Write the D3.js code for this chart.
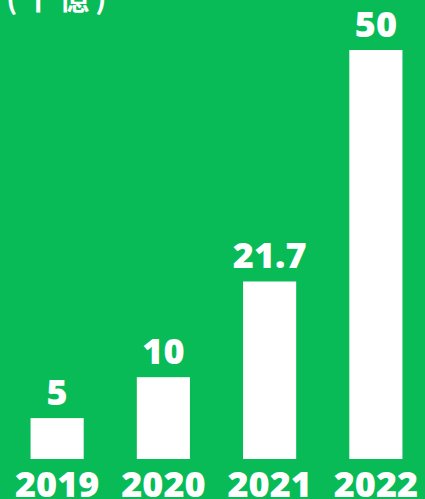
<!DOCTYPE html>
<html><head><meta charset="utf-8">
<script src="https://cdn.jsdelivr.net/npm/d3@7"></script>
<style>html,body{margin:0;padding:0;background:#08bb56;overflow:hidden}</style>
</head><body>
<svg id="c" width="425" height="499"></svg>
<script>
const years = ["2019","2020","2021","2022"];
const values = [5, 10, 21.7, 50];
const valueLabels = ["5","10","21.7","50"];
const unitLabel = "(千億)";

const svg = d3.select("#c");
svg.append("rect").attr("width",425).attr("height",499).attr("fill","#08bb56");

const x = d3.scaleBand().domain(years).range([4, 429]).paddingInner(0.5).paddingOuter(0.25);
const y = d3.scaleLinear().domain([0, 50]).range([459, 50]);

svg.selectAll("rect.bar").data(values).join("rect")
  .attr("class","bar")
  .attr("x",(d,i)=>x(years[i]))
  .attr("width",x.bandwidth())
  .attr("y",d=>y(d))
  .attr("height",d=>y(0)-y(d))
  .attr("fill","#ffffff");

const font = "'Open Sans', 'Noto Sans', sans-serif";
svg.selectAll("text.val").data(values).join("text")
  .attr("class","val")
  .attr("x",(d,i)=>x(years[i])+x.bandwidth()/2)
  .attr("y",d=>y(d)-13)
  .attr("text-anchor","middle")
  .attr("fill","#fff")
  .attr("font-family",font)
  .attr("font-weight",800)
  .attr("font-size",36)
  .text((d,i)=>valueLabels[i]);

const xAxis = d3.axisBottom(x).tickSize(0).tickPadding(0);
const gx = svg.append("g").attr("transform","translate(0,497)").call(xAxis);
gx.select(".domain").remove();
gx.selectAll("text")
  .attr("dy",0)
  .attr("fill","#fff")
  .attr("font-family",font)
  .attr("font-weight",800)
  .attr("font-size",36);

svg.append("text")
  .attr("x",6).attr("y",9)
  .attr("fill","#fff")
  .attr("font-family","'Noto Sans CJK TC', sans-serif")
  .attr("font-weight",700)
  .attr("font-size",30)
  .attr("letter-spacing",6)
  .text(unitLabel);
</script>
</body></html>
